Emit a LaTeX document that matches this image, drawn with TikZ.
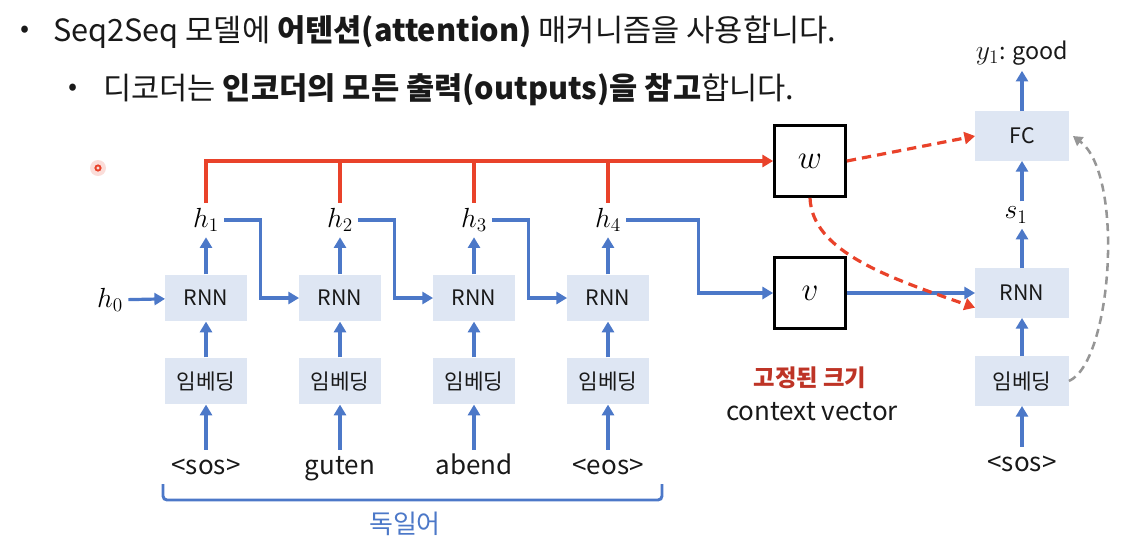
\documentclass[tikz,border=0pt]{standalone}
\usepackage{amsmath}
\usepackage{fontspec}
\setmainfont{Noto Sans CJK KR}
\usepackage{xcolor}
\usetikzlibrary{positioning,arrows.meta,calc}

\definecolor{rnnblue}{RGB}{76,120,200}
\definecolor{boxfill}{RGB}{222,230,243}
\definecolor{attnred}{RGB}{233,66,42}
\definecolor{fixred}{RGB}{190,52,38}
\definecolor{loopgray}{RGB}{150,150,150}
\definecolor{ink}{RGB}{25,25,25}

\tikzset{
  cell/.style={fill=boxfill, minimum width=61pt, minimum height=35pt, inner sep=0pt,
    text=ink, font=\fontsize{16}{18}\selectfont},
  deccell/.style={cell, minimum width=70pt, minimum height=37pt},
  weight/.style={draw=black, line width=2.3pt, minimum size=53pt, inner sep=0pt,
    font=\fontsize{26}{28}\selectfont},
  token/.style={anchor=base, inner sep=3pt, text height=15pt, text depth=5pt,
    text=ink, font=\fontsize{19.5}{22}\selectfont},
  hid/.style={inner sep=4pt, font=\fontsize{20}{22}\selectfont},
  barrow/.style={draw=rnnblue, line width=2.4pt, -{Triangle[length=8pt,width=9pt]}},
  rline/.style={draw=attnred, line width=2.4pt},
  rarrow/.style={rline, -{Triangle[length=8pt,width=9pt]}},
  rdash/.style={rarrow, dash pattern=on 7pt off 4.5pt},
  gdash/.style={draw=loopgray, line width=1.9pt, dash pattern=on 6pt off 4pt,
    -{Triangle[length=7pt,width=8pt]}},
  bullet/.style={anchor=west, inner sep=0pt, text=ink, font=\fontsize{23}{26}\selectfont}
}

\begin{document}
\begin{tikzpicture}[x=0.75pt,y=0.75pt,yscale=-1,xscale=1]
\useasboundingbox (0,0) rectangle (1130,540);

% Bullets
\node[bullet] (dot1) at (20,32) {\fontsize{20}{22}\selectfont •};
\node[bullet] (line1) at (53,32) {Seq2Seq 모델에 \textbf{어텐션(attention)} 매커니즘을 사용합니다.};
\node[bullet] (dot2) at (68,90) {\fontsize{20}{22}\selectfont •};
\node[bullet] (line2) at (103,90) {디코더는 \textbf{인코더의 모든 출력(outputs)을 참고}합니다.};

% pointer
\fill[attnred!18] (98,168) circle (8);
\draw[attnred, line width=1.4pt] (98,168) circle (2.6);

% Encoder
\foreach \i/\x/\word in {1/206/{<sos>},2/340/guten,3/474/abend,4/608/{<eos>}}{
  \node[cell] (rnn\i) at (\x,298) {RNN};
  \node[cell] (emb\i) at (\x,381) {임베딩};
  \node[token] (in\i) at (\x,474) {\word};
  \node[hid] (h\i) at (\x,220) {$h_{\i}$};
  \draw[barrow] (in\i) -- (emb\i);
  \draw[barrow] (emb\i) -- (rnn\i);
  \draw[barrow] (rnn\i) -- (h\i);
}
\node[hid] (h0) at (110,300) {$h_0$};
\draw[barrow] (h0) -- (rnn1);
\foreach \i [evaluate=\i as \j using int(\i+1)] in {1,2,3}{
  \draw[barrow] (h\i.east) -- ++(36,0) |- (rnn\j.west);
}

% Weight and context vector
\node[weight] (w) at (810,161) {$w$};
\node[weight] (v) at (810,293) {$v$};
\draw[rarrow] (h1.north) |- (w.west);
\foreach \i in {2,3,4}{
  \draw[rline] (h\i.north) -- (h\i.north |- w.west);
}
\draw[barrow] (h4.east) -- ++(72,0) |- (v.west);
\node[text=fixred, font=\fontsize{17.5}{20}\selectfont\bfseries] (fixed) at (810,378) {고정된 크기};
\node[text=ink, font=\fontsize{19.5}{22}\selectfont] (ctx) at (812,412) {context vector};

% Decoder
\node[deccell] (drnn) at (1022,293) {RNN};
\node[deccell] (demb) at (1022,381) {임베딩};
\node[deccell] (fc) at (1022,136) {FC};
\node[token] (dsos) at (1022,471) {<sos>};
\node[hid] (s1) at (1016,215) {$s_1$};
\node[hid, text=ink] (y1) at (1022,53) {$y_1$\fontsize{17.5}{20}\selectfont: good};
\draw[barrow] (dsos) -- (demb);
\draw[barrow] (demb) -- (drnn);
\draw[barrow] (drnn.north) -- (drnn.north |- s1.south);
\draw[barrow] (fc.south |- s1.north) -- (fc.south);
\draw[barrow] (fc) -- (y1);
\draw[barrow] (v.east) -- (drnn.west);
\draw[rdash] (w.east) -- (fc.west);
\draw[rdash] (w.south) .. controls (812,252) and (890,278) .. ([yshift=11pt]drnn.west);
\draw[gdash] (demb.east) .. controls (1112,362) and (1125,175) .. ([xshift=3pt]fc.east);

% Brace
\draw[rnnblue, line width=2.2pt, rounded corners=3pt] (163,484) -- (163,500) -- (662,500) -- (662,484);
\node[text=rnnblue, font=\fontsize{19.5}{22}\selectfont] (lang) at (405,524) {독일어};

\end{tikzpicture}
\end{document}
